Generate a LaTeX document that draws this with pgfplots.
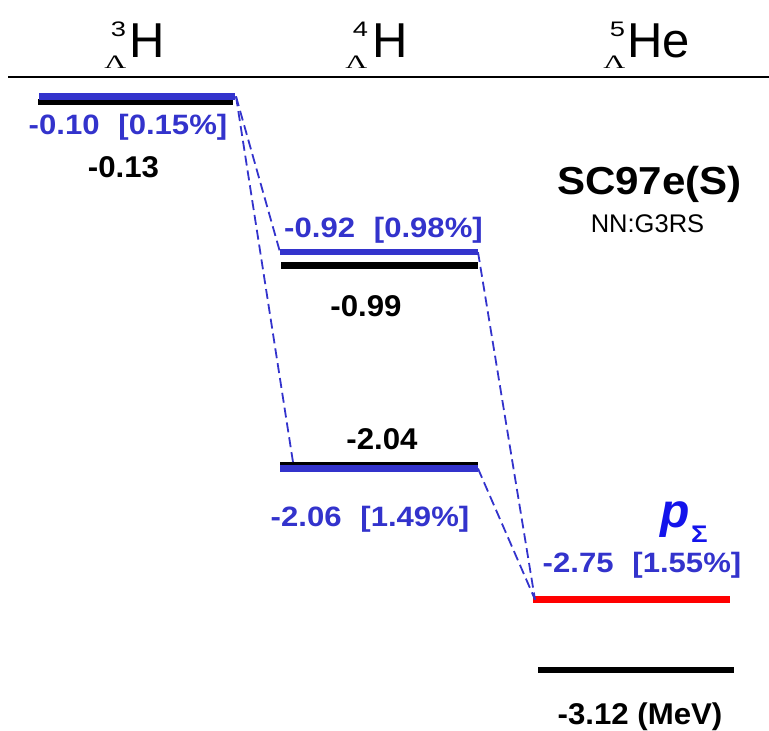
\documentclass[border=0pt]{standalone}
\usepackage{pgfplots}
\pgfplotsset{compat=1.18}
\usepackage{graphicx}
\usepackage{fontspec}
\setmainfont{Liberation Sans}
\newfontfamily\greekserif{Liberation Serif}

\definecolor{lvblue}{RGB}{51,51,204}
\definecolor{lvred}{RGB}{255,0,0}
\definecolor{sigblue}{RGB}{20,20,235}

% value labels: blue = with Sigma admixture, black = without
\newcommand\bluelab[2]{\scalebox{1.11}[1]{\fontsize{28bp}{32bp}\selectfont\bfseries #1\hspace{17bp}[#2\%]}}
\newcommand\blacklab[1]{\scalebox{1.04}[1]{\fontsize{30bp}{34bp}\selectfont\bfseries #1}}
\newcommand\elem[1]{\fontsize{49bp}{50bp}\selectfont #1}
\newcommand\massno[1]{\scalebox{1.3}[1]{\fontsize{21bp}{22bp}\selectfont #1}}
\newcommand\lam{\scalebox{1.6}[1]{\fontsize{19bp}{20bp}\greekserif Λ}}

\begin{document}
\begin{tikzpicture}[every node/.style={inner sep=0pt, outer sep=0pt}]
\begin{axis}[
  at={(0,0)}, anchor=south west,
  width=769bp, height=731bp, scale only axis,
  xmin=0, xmax=769, ymin=-3.442, ymax=0.4076,
  hide axis, clip=false,
  level/.style={line width=6.5bp, line cap=butt},
  link/.style={lvblue, line width=1.8bp, dash pattern=on 10bp off 5bp},
]
% threshold line (E = 0)
\addplot[black, line width=2bp] coordinates {(8,0) (769,0)};

% levels without Sigma (black)
\addplot[level, black] coordinates {(38,-0.13) (233,-0.13)};
\addplot[level, black] coordinates {(281,-0.99) (478,-0.99)};
\addplot[level, black] coordinates {(280,-2.04) (478,-2.04)};
\addplot[level, black] coordinates {(538,-3.12) (734,-3.12)};

% levels with Sigma (blue / red)
\addplot[level, lvblue] coordinates {(39,-0.10) (235,-0.10)};
\addplot[level, lvblue] coordinates {(280,-0.92) (478,-0.92)};
\addplot[level, lvblue] coordinates {(280,-2.06) (478,-2.06)};
\addplot[level, lvred, line width=7bp] coordinates {(533,-2.75) (730,-2.75)};

% connecting dashed lines
\addplot[link] coordinates {(236,-0.10) (280,-0.92)};
\addplot[link] coordinates {(236,-0.10) (294,-2.06)};
\addplot[link] coordinates {(478,-0.92) (535,-2.75)};
\addplot[link] coordinates {(478,-2.06) (535,-2.75)};
\end{axis}

% hypernuclei headers
\node[anchor=base west] at (129bp,673bp) {\elem{H}};
\node[anchor=base east] at (126bp,694bp) {\massno{3}};
\node[anchor=base east] at (126.5bp,662bp) {\lam};
\node[anchor=base west] at (372bp,673bp) {\elem{H}};
\node[anchor=base east] at (368bp,694bp) {\massno{4}};
\node[anchor=base east] at (367.5bp,662bp) {\lam};
\node[anchor=base west] at (627bp,673bp) {\elem{He}};
\node[anchor=base east] at (625bp,694bp) {\massno{5}};
\node[anchor=base east] at (625.5bp,662bp) {\lam};

% energy labels
\node[anchor=base, text=lvblue] at (128bp,596bp) {\bluelab{-0.10}{0.15}};
\node[anchor=base] at (123.5bp,553bp) {\blacklab{-0.13}};
\node[anchor=base, text=lvblue] at (383.5bp,493bp) {\bluelab{-0.92}{0.98}};
\node[anchor=base] at (366bp,414bp) {\blacklab{-0.99}};
\node[anchor=base] at (382bp,281bp) {\blacklab{-2.04}};
\node[anchor=base, text=lvblue] at (370bp,204bp) {\bluelab{-2.06}{1.49}};
\node[anchor=base, text=lvblue] at (642bp,158bp) {\bluelab{-2.75}{1.55}};
\node[anchor=base] at (640bp,7bp) {\blacklab{-3.12 (MeV)}};

% interaction model
\node[anchor=base] at (649.5bp,536bp) {\scalebox{1.08}[1]{\fontsize{39bp}{42bp}\selectfont\bfseries SC97e(S)}};
\node[anchor=base] at (647.5bp,498bp) {\fontsize{25.5bp}{28bp}\selectfont NN:G3RS};

% p_Sigma
\node[anchor=base west, text=sigblue] at (660bp,203bp) {\fontsize{48bp}{50bp}\selectfont\bfseries\itshape p};
\node[anchor=base west, text=sigblue] at (691bp,188bp) {\scalebox{1.15}[1]{\fontsize{24bp}{26bp}\selectfont\bfseries Σ}};

\pgfresetboundingbox
\path (0,0) rectangle (769bp,731bp);
\end{tikzpicture}
\end{document}
